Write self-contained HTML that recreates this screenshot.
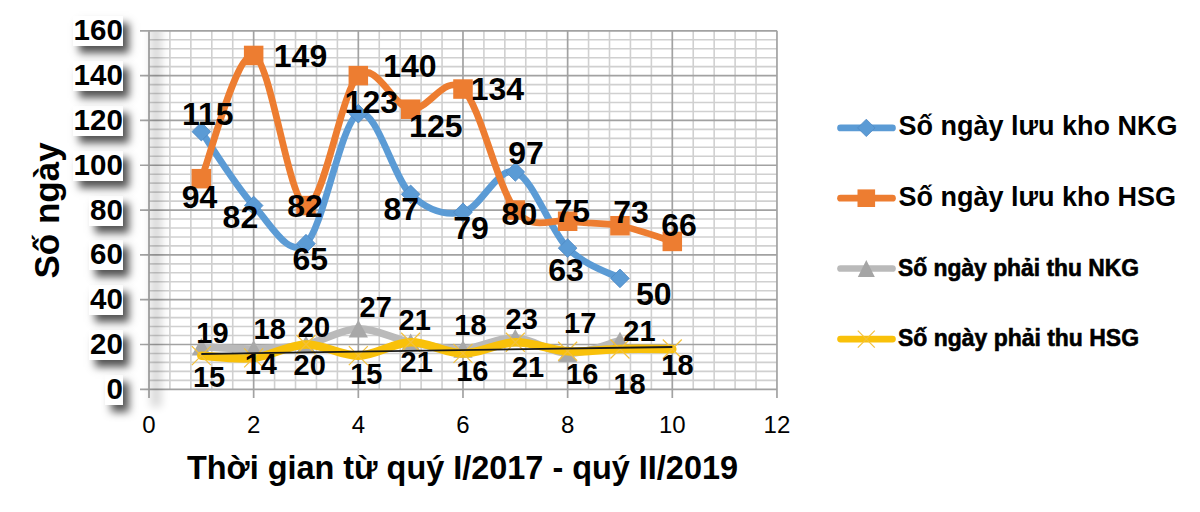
<!DOCTYPE html>
<html><head><meta charset="utf-8">
<style>
html,body{margin:0;padding:0;background:#fff;}
body{width:1200px;height:512px;position:relative;overflow:hidden;font-family:"Liberation Sans",sans-serif;}
svg{position:absolute;left:0;top:0;}
.mn{stroke:#D0D0D0;stroke-width:1.6;}
.mj{stroke:#A2A2A2;stroke-width:1.7;}
.lb{font-family:"Liberation Sans",sans-serif;font-weight:bold;fill:#000;}
.xt{font-family:"Liberation Sans",sans-serif;font-size:24px;fill:#000;}
.lg{font-family:"Liberation Sans",sans-serif;font-weight:bold;font-size:27px;fill:#000;}
.lg2{font-family:"Liberation Sans",sans-serif;font-weight:bold;font-size:23.5px;fill:#000;stroke:#000;stroke-width:0.6px;}
.xtt{font-family:"Liberation Sans",sans-serif;font-weight:bold;font-size:32.5px;fill:#000;}
.ytt{font-family:"Liberation Sans",sans-serif;font-weight:bold;font-size:35px;fill:#000;}
.yl{position:absolute;right:1077.2px;height:30px;line-height:27.5px;padding:0 0 0 1px;background:#fff;font-weight:bold;font-size:29.5px;color:#000;box-shadow:6px 7px 8px rgba(0,0,0,0.68);}
</style></head><body>
<svg width="1200" height="512" viewBox="0 0 1200 512">
<line x1="149.00" y1="380.34" x2="776.96" y2="380.34" class="mn"/>
<line x1="149.00" y1="371.38" x2="776.96" y2="371.38" class="mn"/>
<line x1="149.00" y1="362.41" x2="776.96" y2="362.41" class="mn"/>
<line x1="149.00" y1="353.45" x2="776.96" y2="353.45" class="mn"/>
<line x1="149.00" y1="335.53" x2="776.96" y2="335.53" class="mn"/>
<line x1="149.00" y1="326.56" x2="776.96" y2="326.56" class="mn"/>
<line x1="149.00" y1="317.60" x2="776.96" y2="317.60" class="mn"/>
<line x1="149.00" y1="308.64" x2="776.96" y2="308.64" class="mn"/>
<line x1="149.00" y1="290.71" x2="776.96" y2="290.71" class="mn"/>
<line x1="149.00" y1="281.75" x2="776.96" y2="281.75" class="mn"/>
<line x1="149.00" y1="272.79" x2="776.96" y2="272.79" class="mn"/>
<line x1="149.00" y1="263.83" x2="776.96" y2="263.83" class="mn"/>
<line x1="149.00" y1="245.90" x2="776.96" y2="245.90" class="mn"/>
<line x1="149.00" y1="236.94" x2="776.96" y2="236.94" class="mn"/>
<line x1="149.00" y1="227.98" x2="776.96" y2="227.98" class="mn"/>
<line x1="149.00" y1="219.01" x2="776.96" y2="219.01" class="mn"/>
<line x1="149.00" y1="201.09" x2="776.96" y2="201.09" class="mn"/>
<line x1="149.00" y1="192.13" x2="776.96" y2="192.13" class="mn"/>
<line x1="149.00" y1="183.16" x2="776.96" y2="183.16" class="mn"/>
<line x1="149.00" y1="174.20" x2="776.96" y2="174.20" class="mn"/>
<line x1="149.00" y1="156.28" x2="776.96" y2="156.28" class="mn"/>
<line x1="149.00" y1="147.32" x2="776.96" y2="147.32" class="mn"/>
<line x1="149.00" y1="138.35" x2="776.96" y2="138.35" class="mn"/>
<line x1="149.00" y1="129.39" x2="776.96" y2="129.39" class="mn"/>
<line x1="149.00" y1="111.47" x2="776.96" y2="111.47" class="mn"/>
<line x1="149.00" y1="102.50" x2="776.96" y2="102.50" class="mn"/>
<line x1="149.00" y1="93.54" x2="776.96" y2="93.54" class="mn"/>
<line x1="149.00" y1="84.58" x2="776.96" y2="84.58" class="mn"/>
<line x1="149.00" y1="66.65" x2="776.96" y2="66.65" class="mn"/>
<line x1="149.00" y1="57.69" x2="776.96" y2="57.69" class="mn"/>
<line x1="149.00" y1="48.73" x2="776.96" y2="48.73" class="mn"/>
<line x1="149.00" y1="39.77" x2="776.96" y2="39.77" class="mn"/>
<line x1="169.93" y1="30.80" x2="169.93" y2="389.30" class="mn"/>
<line x1="190.86" y1="30.80" x2="190.86" y2="389.30" class="mn"/>
<line x1="211.80" y1="30.80" x2="211.80" y2="389.30" class="mn"/>
<line x1="232.73" y1="30.80" x2="232.73" y2="389.30" class="mn"/>
<line x1="274.59" y1="30.80" x2="274.59" y2="389.30" class="mn"/>
<line x1="295.52" y1="30.80" x2="295.52" y2="389.30" class="mn"/>
<line x1="316.46" y1="30.80" x2="316.46" y2="389.30" class="mn"/>
<line x1="337.39" y1="30.80" x2="337.39" y2="389.30" class="mn"/>
<line x1="379.25" y1="30.80" x2="379.25" y2="389.30" class="mn"/>
<line x1="400.18" y1="30.80" x2="400.18" y2="389.30" class="mn"/>
<line x1="421.12" y1="30.80" x2="421.12" y2="389.30" class="mn"/>
<line x1="442.05" y1="30.80" x2="442.05" y2="389.30" class="mn"/>
<line x1="483.91" y1="30.80" x2="483.91" y2="389.30" class="mn"/>
<line x1="504.84" y1="30.80" x2="504.84" y2="389.30" class="mn"/>
<line x1="525.78" y1="30.80" x2="525.78" y2="389.30" class="mn"/>
<line x1="546.71" y1="30.80" x2="546.71" y2="389.30" class="mn"/>
<line x1="588.57" y1="30.80" x2="588.57" y2="389.30" class="mn"/>
<line x1="609.50" y1="30.80" x2="609.50" y2="389.30" class="mn"/>
<line x1="630.44" y1="30.80" x2="630.44" y2="389.30" class="mn"/>
<line x1="651.37" y1="30.80" x2="651.37" y2="389.30" class="mn"/>
<line x1="693.23" y1="30.80" x2="693.23" y2="389.30" class="mn"/>
<line x1="714.16" y1="30.80" x2="714.16" y2="389.30" class="mn"/>
<line x1="735.10" y1="30.80" x2="735.10" y2="389.30" class="mn"/>
<line x1="756.03" y1="30.80" x2="756.03" y2="389.30" class="mn"/>
<line x1="140.00" y1="389.30" x2="776.96" y2="389.30" class="mj"/>
<line x1="140.00" y1="344.49" x2="776.96" y2="344.49" class="mj"/>
<line x1="140.00" y1="299.68" x2="776.96" y2="299.68" class="mj"/>
<line x1="140.00" y1="254.86" x2="776.96" y2="254.86" class="mj"/>
<line x1="140.00" y1="210.05" x2="776.96" y2="210.05" class="mj"/>
<line x1="140.00" y1="165.24" x2="776.96" y2="165.24" class="mj"/>
<line x1="140.00" y1="120.43" x2="776.96" y2="120.43" class="mj"/>
<line x1="140.00" y1="75.62" x2="776.96" y2="75.62" class="mj"/>
<line x1="140.00" y1="30.80" x2="776.96" y2="30.80" class="mj"/>
<line x1="149.00" y1="30.80" x2="149.00" y2="398.00" class="mj"/>
<line x1="253.66" y1="30.80" x2="253.66" y2="398.00" class="mj"/>
<line x1="358.32" y1="30.80" x2="358.32" y2="398.00" class="mj"/>
<line x1="462.98" y1="30.80" x2="462.98" y2="398.00" class="mj"/>
<line x1="567.64" y1="30.80" x2="567.64" y2="398.00" class="mj"/>
<line x1="672.30" y1="30.80" x2="672.30" y2="398.00" class="mj"/>
<line x1="776.96" y1="30.80" x2="776.96" y2="398.00" class="mj"/>
<defs><filter id="bl" x="-100%" y="-10%" width="300%" height="120%"><feGaussianBlur stdDeviation="4"/></filter><clipPath id="cp"><rect x="140" y="32" width="60" height="400"/></clipPath></defs>
<g clip-path="url(#cp)"><rect x="150.5" y="20" width="11" height="387" fill="#000" opacity="0.15" filter="url(#bl)"/></g>
<path d="M201.33,131.63 C210.05,143.95 236.22,186.90 253.66,205.57 C271.10,224.24 288.55,258.97 305.99,243.66 C323.43,228.35 340.88,121.92 358.32,113.71 C375.76,105.49 393.21,177.94 410.65,194.37 C428.09,210.80 445.54,216.03 462.98,212.29 C480.42,208.56 497.87,165.99 515.31,171.96 C532.75,177.94 550.20,230.40 567.64,248.14 C585.08,265.88 611.25,273.35 619.97,278.39" fill="none" stroke="#5B9BD5" stroke-width="6.8" stroke-linecap="round" stroke-linejoin="round"/>
<path d="M201.33,122.28 L210.68,131.63 L201.33,140.98 L191.98,131.63 Z" fill="#5B9BD5" stroke="#4F89C4" stroke-width="0.8"/>
<path d="M253.66,196.22 L263.01,205.57 L253.66,214.92 L244.31,205.57 Z" fill="#5B9BD5" stroke="#4F89C4" stroke-width="0.8"/>
<path d="M305.99,234.31 L315.34,243.66 L305.99,253.01 L296.64,243.66 Z" fill="#5B9BD5" stroke="#4F89C4" stroke-width="0.8"/>
<path d="M358.32,104.36 L367.67,113.71 L358.32,123.06 L348.97,113.71 Z" fill="#5B9BD5" stroke="#4F89C4" stroke-width="0.8"/>
<path d="M410.65,185.02 L420.00,194.37 L410.65,203.72 L401.30,194.37 Z" fill="#5B9BD5" stroke="#4F89C4" stroke-width="0.8"/>
<path d="M462.98,202.94 L472.33,212.29 L462.98,221.64 L453.63,212.29 Z" fill="#5B9BD5" stroke="#4F89C4" stroke-width="0.8"/>
<path d="M515.31,162.61 L524.66,171.96 L515.31,181.31 L505.96,171.96 Z" fill="#5B9BD5" stroke="#4F89C4" stroke-width="0.8"/>
<path d="M567.64,238.79 L576.99,248.14 L567.64,257.49 L558.29,248.14 Z" fill="#5B9BD5" stroke="#4F89C4" stroke-width="0.8"/>
<path d="M619.97,269.04 L629.32,278.39 L619.97,287.74 L610.62,278.39 Z" fill="#5B9BD5" stroke="#4F89C4" stroke-width="0.8"/>
<path d="M201.33,178.68 C210.05,158.14 236.22,50.97 253.66,55.45 C271.10,59.93 288.55,202.21 305.99,205.57 C323.43,208.93 340.88,91.67 358.32,75.62 C375.76,59.56 393.21,106.98 410.65,109.22 C428.09,111.47 445.54,72.26 462.98,89.06 C480.42,105.86 497.87,188.02 515.31,210.05 C532.75,232.08 550.20,218.64 567.64,221.25 C585.08,223.87 602.53,222.38 619.97,225.74 C637.41,229.10 663.58,238.81 672.30,241.42" fill="none" stroke="#ED7D31" stroke-width="6.8" stroke-linecap="round" stroke-linejoin="round"/>
<rect x="191.58" y="168.93" width="19.50" height="19.50" fill="#ED7D31"/>
<rect x="243.91" y="45.70" width="19.50" height="19.50" fill="#ED7D31"/>
<rect x="296.24" y="195.82" width="19.50" height="19.50" fill="#ED7D31"/>
<rect x="348.57" y="65.87" width="19.50" height="19.50" fill="#ED7D31"/>
<rect x="400.90" y="99.47" width="19.50" height="19.50" fill="#ED7D31"/>
<rect x="453.23" y="79.31" width="19.50" height="19.50" fill="#ED7D31"/>
<rect x="505.56" y="200.30" width="19.50" height="19.50" fill="#ED7D31"/>
<rect x="557.89" y="211.50" width="19.50" height="19.50" fill="#ED7D31"/>
<rect x="610.22" y="215.99" width="19.50" height="19.50" fill="#ED7D31"/>
<rect x="662.55" y="231.67" width="19.50" height="19.50" fill="#ED7D31"/>
<path d="M201.33,346.73 C210.05,347.10 236.22,349.34 253.66,348.97 C271.10,348.60 288.55,347.85 305.99,344.49 C323.43,341.13 340.88,329.18 358.32,328.80 C375.76,328.43 393.21,338.89 410.65,342.25 C428.09,345.61 445.54,349.72 462.98,348.97 C480.42,348.22 497.87,337.02 515.31,337.77 C532.75,338.51 550.20,353.00 567.64,353.45 C585.08,353.90 611.25,342.62 619.97,340.45" fill="none" stroke="#BABABA" stroke-width="7.5" stroke-linecap="round" stroke-linejoin="round"/>
<path d="M201.33,337.98 L210.95,355.48 L191.70,355.48 Z" fill="#A8A8A8"/>
<path d="M253.66,340.22 L263.28,357.72 L244.03,357.72 Z" fill="#A8A8A8"/>
<path d="M305.99,335.74 L315.62,353.24 L296.37,353.24 Z" fill="#A8A8A8"/>
<path d="M358.32,320.05 L367.94,337.55 L348.69,337.55 Z" fill="#A8A8A8"/>
<path d="M410.65,333.50 L420.27,351.00 L401.02,351.00 Z" fill="#A8A8A8"/>
<path d="M462.98,340.22 L472.61,357.72 L453.36,357.72 Z" fill="#A8A8A8"/>
<path d="M515.31,329.02 L524.93,346.52 L505.68,346.52 Z" fill="#A8A8A8"/>
<path d="M567.64,344.70 L577.26,362.20 L558.01,362.20 Z" fill="#A8A8A8"/>
<path d="M619.97,331.70 L629.60,349.20 L610.35,349.20 Z" fill="#A8A8A8"/>
<path d="M201.33,355.69 C210.05,356.06 236.22,359.80 253.66,357.93 C271.10,356.06 288.55,344.86 305.99,344.49 C323.43,344.11 340.88,356.06 358.32,355.69 C375.76,355.32 393.21,342.62 410.65,342.25 C428.09,341.87 445.54,353.45 462.98,353.45 C480.42,353.45 497.87,342.62 515.31,342.25 C532.75,341.87 550.20,350.09 567.64,351.21 C585.08,352.33 602.53,349.34 619.97,348.97 C637.41,348.60 663.58,348.97 672.30,348.97" fill="none" stroke="#F9C10A" stroke-width="8.5" stroke-linecap="round" stroke-linejoin="round"/>
<path d="M191.83,346.19 L210.83,365.19 M210.83,346.19 L191.83,365.19" stroke="#F3C03C" stroke-width="1.2" fill="none"/>
<path d="M244.16,348.43 L263.16,367.43 M263.16,348.43 L244.16,367.43" stroke="#F3C03C" stroke-width="1.2" fill="none"/>
<path d="M296.49,334.99 L315.49,353.99 M315.49,334.99 L296.49,353.99" stroke="#F3C03C" stroke-width="1.2" fill="none"/>
<path d="M348.82,346.19 L367.82,365.19 M367.82,346.19 L348.82,365.19" stroke="#F3C03C" stroke-width="1.2" fill="none"/>
<path d="M401.15,332.75 L420.15,351.75 M420.15,332.75 L401.15,351.75" stroke="#F3C03C" stroke-width="1.2" fill="none"/>
<path d="M453.48,343.95 L472.48,362.95 M472.48,343.95 L453.48,362.95" stroke="#F3C03C" stroke-width="1.2" fill="none"/>
<path d="M505.81,332.75 L524.81,351.75 M524.81,332.75 L505.81,351.75" stroke="#F3C03C" stroke-width="1.2" fill="none"/>
<path d="M558.14,341.71 L577.14,360.71 M577.14,341.71 L558.14,360.71" stroke="#F3C03C" stroke-width="1.2" fill="none"/>
<path d="M610.47,339.47 L629.47,358.47 M629.47,339.47 L610.47,358.47" stroke="#F3C03C" stroke-width="1.2" fill="none"/>
<path d="M662.80,339.47 L681.80,358.47 M681.80,339.47 L662.80,358.47" stroke="#F3C03C" stroke-width="1.2" fill="none"/>
<line x1="201.33" y1="354.00" x2="672.30" y2="347.00" stroke="#1a1a1a" stroke-width="1.8"/>
<text x="181.9" y="124.8" class="lb" style="font-size:32px">115</text>
<text x="181.8" y="207.9" class="lb" style="font-size:32px">94</text>
<text x="222.6" y="227.8" class="lb" style="font-size:32px">82</text>
<text x="273.8" y="66.8" class="lb" style="font-size:32px">149</text>
<text x="287.2" y="217.3" class="lb" style="font-size:32px">82</text>
<text x="292.4" y="270.0" class="lb" style="font-size:32px">65</text>
<text x="344.6" y="112.5" class="lb" style="font-size:32px">123</text>
<text x="383.2" y="76.6" class="lb" style="font-size:32px">140</text>
<text x="409.1" y="136.6" class="lb" style="font-size:32px">125</text>
<text x="383.5" y="219.5" class="lb" style="font-size:32px">87</text>
<text x="470.7" y="99.6" class="lb" style="font-size:32px">134</text>
<text x="453.2" y="239.4" class="lb" style="font-size:32px">79</text>
<text x="508.2" y="164.4" class="lb" style="font-size:32px">97</text>
<text x="501.6" y="224.9" class="lb" style="font-size:32px">80</text>
<text x="554.5" y="222.0" class="lb" style="font-size:32px">75</text>
<text x="548.2" y="280.6" class="lb" style="font-size:32px">63</text>
<text x="613.2" y="222.7" class="lb" style="font-size:32px">73</text>
<text x="636.0" y="305.0" class="lb" style="font-size:32px">50</text>
<text x="661.2" y="236.1" class="lb" style="font-size:32px">66</text>
<text x="196.3" y="342.5" class="lb" style="font-size:29px">19</text>
<text x="192.9" y="387.4" class="lb" style="font-size:29px">15</text>
<text x="253.5" y="339.1" class="lb" style="font-size:29px">18</text>
<text x="244.7" y="373.7" class="lb" style="font-size:29px">14</text>
<text x="297.8" y="336.6" class="lb" style="font-size:29px">20</text>
<text x="293.5" y="374.7" class="lb" style="font-size:29px">20</text>
<text x="359.6" y="317.4" class="lb" style="font-size:29px">27</text>
<text x="350.2" y="383.8" class="lb" style="font-size:29px">15</text>
<text x="398.6" y="329.5" class="lb" style="font-size:29px">21</text>
<text x="400.6" y="372.1" class="lb" style="font-size:29px">21</text>
<text x="454.3" y="335.0" class="lb" style="font-size:29px">18</text>
<text x="456.2" y="381.3" class="lb" style="font-size:29px">16</text>
<text x="505.5" y="328.9" class="lb" style="font-size:29px">23</text>
<text x="511.9" y="376.6" class="lb" style="font-size:29px">21</text>
<text x="564.0" y="332.6" class="lb" style="font-size:29px">17</text>
<text x="566.1" y="384.2" class="lb" style="font-size:29px">16</text>
<text x="623.3" y="341.2" class="lb" style="font-size:29px">21</text>
<text x="613.4" y="393.8" class="lb" style="font-size:29px">18</text>
<text x="661.3" y="374.5" class="lb" style="font-size:29px">18</text>
<text x="149.00" y="433" class="xt" text-anchor="middle">0</text>
<text x="253.66" y="433" class="xt" text-anchor="middle">2</text>
<text x="358.32" y="433" class="xt" text-anchor="middle">4</text>
<text x="462.98" y="433" class="xt" text-anchor="middle">6</text>
<text x="567.64" y="433" class="xt" text-anchor="middle">8</text>
<text x="672.30" y="433" class="xt" text-anchor="middle">10</text>
<text x="776.96" y="433" class="xt" text-anchor="middle">12</text>
<line x1="840.5" y1="127.9" x2="892.5" y2="127.9" stroke="#5B9BD5" stroke-width="6.7" stroke-linecap="round"/>
<path d="M866.3,119.2 L875.0,127.9 L866.3,136.6 L857.6,127.9 Z" fill="#5B9BD5" stroke="#4F89C4" stroke-width="0.8"/>
<text x="898.5" y="135.2" class="lg">Số ngày lưu kho NKG</text>
<line x1="840.5" y1="198.2" x2="892.5" y2="198.2" stroke="#ED7D31" stroke-width="6.7" stroke-linecap="round"/>
<rect x="857.5" y="189.4" width="17.6" height="17.6" fill="#ED7D31"/>
<text x="898.5" y="205.5" class="lg">Số ngày lưu kho HSG</text>
<line x1="840.5" y1="268.5" x2="892.5" y2="268.5" stroke="#BABABA" stroke-width="6.7" stroke-linecap="round"/>
<path d="M866.3,260.0 L874.8,277.0 L857.8,277.0 Z" fill="#A5A5A5"/>
<text x="898" y="275.6" class="lg2" textLength="241" lengthAdjust="spacingAndGlyphs">Số ngày phải thu NKG</text>
<line x1="840.5" y1="339.1" x2="892.5" y2="339.1" stroke="#F9C10A" stroke-width="6.7" stroke-linecap="round"/>
<path d="M857.8,330.6 L874.8,347.6 M874.8,330.6 L857.8,347.6" stroke="#F3C03C" stroke-width="1.2"/>
<text x="898" y="346.2" class="lg2" textLength="241" lengthAdjust="spacingAndGlyphs">Số ngày phải thu HSG</text>
<text x="187" y="478.6" class="xtt" textLength="551" lengthAdjust="spacingAndGlyphs">Thời gian từ quý I/2017 - quý II/2019</text>
<text transform="translate(58.5,278.5) rotate(-90)" class="ytt">Số ngày</text>
</svg>
<div class="yl" style="top:374.8px">0</div>
<div class="yl" style="top:330.0px">20</div>
<div class="yl" style="top:285.2px">40</div>
<div class="yl" style="top:240.4px">60</div>
<div class="yl" style="top:195.6px">80</div>
<div class="yl" style="top:150.7px">100</div>
<div class="yl" style="top:105.9px">120</div>
<div class="yl" style="top:61.1px">140</div>
<div class="yl" style="top:16.3px">160</div>
</body></html>
